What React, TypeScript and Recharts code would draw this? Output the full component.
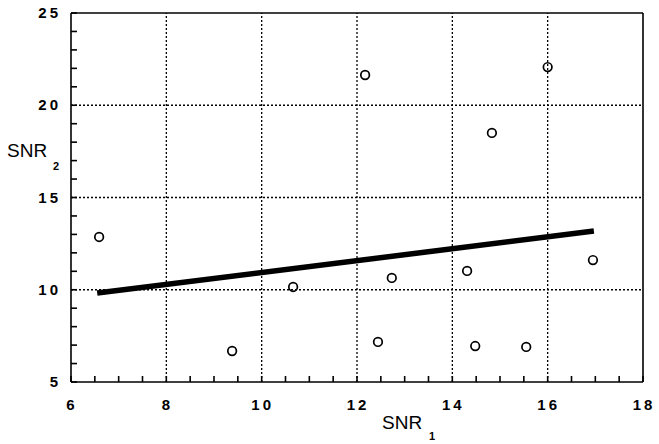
import { ScatterChart, Scatter, XAxis, YAxis, ReferenceLine } from "recharts"

// measured points (SNR1, SNR2)
const snr1 = [6.59, 9.38, 10.66, 12.17, 16.0, 14.83, 12.73, 12.44, 14.31, 14.48, 15.55, 16.95]
const snr2 = [12.86, 6.68, 10.15, 21.64, 22.07, 18.5, 10.64, 7.17, 11.02, 6.95, 6.9, 11.61]

// fitted line end points
const fitX = [6.55, 16.97]
const fitY = [9.82, 13.18]

const xMajor = [6, 8, 10, 12, 14, 16, 18]
const xMinor = [6, 6.5, 7, 7.5, 8, 8.5, 9, 9.5, 10, 10.5, 11, 11.5, 12, 12.5, 13, 13.5, 14, 14.5, 15, 15.5, 16, 16.5, 17, 17.5, 18]
const yMajor = [5, 10, 15, 20, 25]
const yMinor = [5, 6, 7, 8, 9, 10, 11, 12, 13, 14, 15, 16, 17, 18, 19, 20, 21, 22, 23, 24, 25]

const points = snr1.map((x, i) => ({ x, y: snr2[i] }))
const fit = fitX.map((x, i) => ({ x, y: fitY[i] }))

const font = "'Liberation Sans', Arial, sans-serif"
const tickText = { fontFamily: font, fontSize: 15, fontWeight: "bold" as const, fill: "#000", letterSpacing: 3 }

const BottomTick = (props: any) => {
  const { x, y, payload } = props
  return (
    <g>
      <line x1={x} x2={x} y1={y} y2={y - 6} stroke="#000" strokeWidth={1.6} />
      {xMajor.includes(payload.value) && (
        <text x={x + 1} y={y + 28} textAnchor="middle" {...tickText}>
          {payload.value}
        </text>
      )}
    </g>
  )
}

const TopTick = (props: any) => {
  const { x, y } = props
  return <line x1={x} x2={x} y1={y} y2={y + 6} stroke="#000" strokeWidth={1.6} />
}

const LeftTick = (props: any) => {
  const { x, y, payload } = props
  return (
    <g>
      <line x1={x} x2={x + 6} y1={y} y2={y} stroke="#000" strokeWidth={1.6} />
      {yMajor.includes(payload.value) && (
        <text x={x - 10} y={y + 5} textAnchor="end" {...tickText}>
          {payload.value}
        </text>
      )}
    </g>
  )
}

const RightTick = (props: any) => {
  const { x, y } = props
  return <line x1={x} x2={x - 6} y1={y} y2={y} stroke="#000" strokeWidth={1.6} />
}

const Ring = (props: any) => (
  <circle cx={props.cx} cy={props.cy} r={4.3} fill="none" stroke="#000" strokeWidth={1.7} />
)

export default function App() {
  const axisLine = { stroke: "#000", strokeWidth: 1.6 }
  return (
    <div style={{ position: "absolute", left: 0, top: 0, width: 659, height: 444, background: "#fff" }}>
      <ScatterChart width={659} height={444} margin={{ top: 3, right: 6, bottom: 2, left: 11 }}>
        <XAxis
          dataKey="x"
          type="number"
          domain={[6, 18]}
          ticks={xMinor}
          interval={0}
          height={60}
          tickSize={0}
          tickMargin={0}
          axisLine={axisLine}
          tick={BottomTick}
        />
        <XAxis
          xAxisId="top"
          orientation="top"
          type="number"
          domain={[6, 18]}
          ticks={xMinor}
          interval={0}
          height={10}
          tickSize={0}
          tickMargin={0}
          axisLine={axisLine}
          tick={TopTick}
        />
        <YAxis
          dataKey="y"
          type="number"
          domain={[5, 25]}
          ticks={yMinor}
          interval={0}
          width={60}
          tickSize={0}
          tickMargin={0}
          axisLine={axisLine}
          tick={LeftTick}
        />
        <YAxis
          yAxisId="right"
          orientation="right"
          type="number"
          domain={[5, 25]}
          ticks={yMinor}
          interval={0}
          width={10}
          tickSize={0}
          tickMargin={0}
          axisLine={axisLine}
          tick={RightTick}
        />
        {xMajor.slice(1, -1).map((v) => (
          <ReferenceLine key={`gx-${v}`} x={v} stroke="#000" strokeWidth={1.3} strokeDasharray="2 2" />
        ))}
        {yMajor.slice(1, -1).map((v) => (
          <ReferenceLine key={`gy-${v}`} y={v} stroke="#000" strokeWidth={1.3} strokeDasharray="2 2" />
        ))}
        <Scatter
          data={fit}
          line={{ stroke: "#000", strokeWidth: 5.5 }}
          shape={() => <g />}
          isAnimationActive={false}
        />
        <Scatter data={points} shape={Ring} isAnimationActive={false} />
      </ScatterChart>

      {/* axis titles with subscripts */}
      <svg
        width={659}
        height={444}
        style={{ position: "absolute", left: 0, top: 0, pointerEvents: "none" }}
        fontFamily={font}
        fill="#000"
      >
        <text x={7} y={157} fontSize={19}>SNR</text>
        <text x={53} y={170} fontSize={11} fontWeight="bold">2</text>
        <text x={382} y={429} fontSize={19}>SNR</text>
        <text x={429} y={440} fontSize={11} fontWeight="bold">1</text>
      </svg>
    </div>
  )
}
